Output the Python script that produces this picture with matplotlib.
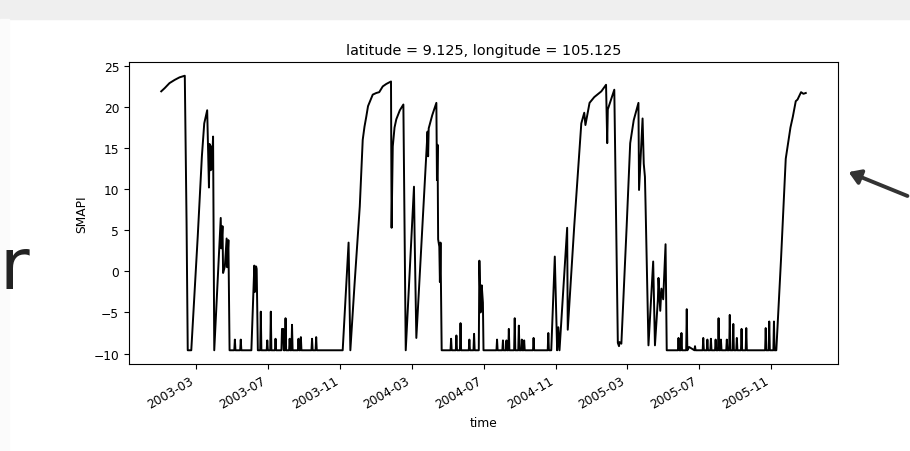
import numpy as np
import matplotlib
matplotlib.use("Agg")
import matplotlib.pyplot as plt
import matplotlib.dates as mdates
from matplotlib.patches import Rectangle

F = -9.6  # floor value of the index

# day offset from 2003-01-01 and SMAPI value at each vertex of the line
day = [0, 6, 14, 23, 31, 40, 43, 45, 51, 62, 69, 73, 78, 81, 82, 84, 85, 86, 88, 90,
       101, 102, 104, 105, 108, 111, 112, 114, 116,
       124, 125, 126, 134, 135, 136, 153, 158, 159, 161, 162, 164, 168, 169, 170,
       179, 180, 181, 185, 186, 187, 193, 194, 195, 204, 205, 206, 207, 208,
       210, 211, 212, 217, 218, 219, 221, 222, 223, 232, 233, 234, 236, 237, 238,
       255, 256, 257, 262, 263, 264, 308, 318, 321,
       328, 337, 342, 345, 348, 351, 359, 365, 370, 376, 382, 390, 391, 393, 396,
       399, 405, 411, 415, 429, 430, 433, 452, 453, 454, 460, 467, 468, 469, 470,
       472, 473, 474, 476,
       491, 492, 493, 500, 501, 502, 507, 508, 509, 522, 523, 524, 530, 531, 532,
       539, 540, 542, 544, 546, 547, 569, 570, 571, 579, 580, 581, 585, 586, 587,
       589, 590, 591, 599, 600, 601, 606, 607, 608, 611, 612, 613, 615, 616, 617,
       631, 632, 633, 656, 657, 658, 662, 668, 672, 674, 676, 689, 690,
       701, 713, 718, 720, 727, 735, 742, 747, 755, 757, 758, 769, 775, 777, 778,
       781, 790, 796, 802, 810, 811, 817, 819, 821, 822, 827, 835, 838, 843, 844,
       847, 849, 852, 856, 858,
       877, 878, 879, 882, 883, 884, 891, 892, 893, 896, 905, 906, 907, 919, 920,
       921, 926, 927, 928, 932, 933, 934, 940, 941, 942, 945, 946, 947, 949, 950,
       951, 959, 960, 961, 964, 965, 966, 970, 971, 972, 976, 977, 978, 984, 985,
       986, 992, 993, 994, 1025, 1026, 1027, 1031, 1032, 1033, 1039, 1040, 1041,
       1044, 1052, 1060, 1068, 1072, 1077, 1080, 1086, 1090, 1094]

smapi = [21.9, 22.3, 22.9, 23.3, 23.6, 23.8, 5.9, F, F, 4.3, 14.0, 18.0, 19.6, 10.2, 15.5, 12.3, 15.2, 12.5, 16.4, F,
         6.5, 2.8, 5.5, -0.2, 0.6, 4.0, 0.5, 3.8, F,
         F, -8.3, F, F, -8.3, F, F, 0.7, -2.5, 0.6, 0.3, F, F, -4.9, F,
         F, -8.4, F, F, -4.9, F, F, -8.2, F, F, -7.0, -7.8, -7.0, F,
         F, -5.7, F, F, -8.2, F, F, -6.5, F, F, -8.2, F, F, -8.0, F,
         F, -8.2, F, F, -8.0, F, F, 3.5, F,
         -1.7, 7.9, 16.0, 17.6, 18.8, 20.1, 21.5, 21.7, 21.8, 22.5, 22.8, 23.1, 5.3, 15.2, 17.5,
         18.5, 19.6, 20.3, F, 10.3, 4.7, -8.1, 17.0, 14.0, 17.4, 19.0, 20.5, 11.1, 15.4, 3.9,
         3.0, -1.3, 3.5, F,
         F, -8.2, F, F, -7.8, F, F, -6.3, F, F, -8.3, F, F, -7.6, F,
         F, 1.3, -5.0, -1.7, -3.8, F, F, -8.3, F, F, -8.4, F, F, -8.4, F,
         F, -7.0, F, F, -5.7, F, F, -6.6, F, F, -8.3, F, F, -8.4, F,
         F, -8.1, F, F, -7.5, F, F, 1.8, F, -6.8, F, 5.3, -7.1,
         5.5, 18.0, 19.3, 17.8, 20.5, 21.2, 21.6, 21.9, 22.7, 15.6, 19.7, 22.1, -8.7, -9.1, -8.6,
         -8.8, 5.5, 15.6, 18.4, 20.5, 9.9, 18.6, 13.1, 11.5, 8.3, -9.0, 1.2, -9.0, -3.4, -0.8,
         -4.8, -2.1, -3.4, 3.3, F,
         F, -8.1, F, F, -7.5, F, F, -4.6, F, -9.2, F, -9.1, F, F, -8.1,
         F, F, -8.3, F, F, -8.2, F, F, -8.3, F, F, -5.7, F, F, -8.3,
         F, F, -8.3, F, F, -5.3, F, F, -6.4, F, F, -8.1, F, F, -7.0,
         F, F, -6.9, F, F, -6.9, F, F, -6.1, F, F, -6.1, F,
         F, 1.5, 13.7, 17.5, 18.8, 20.7, 20.9, 21.8, 21.6, 21.7]

start = np.datetime64("2003-01-01")
title = "latitude = 9.125, longitude = 105.125"


def draw_backdrop(fig):
    # screenshot frame: grey strip on top, cut-off letter, pointer arrow
    fig.patches.append(Rectangle((0, 1 - 20 / 452), 1, 20 / 452, transform=fig.transFigure,
                                 color="#efefef", zorder=0))
    fig.patches.append(Rectangle((0, 0), 9 / 910, 1 - 20 / 452, transform=fig.transFigure,
                                 color="#fbfbfb", zorder=0))
    fig.text(0.0, 0.36, "r", fontsize=52, color="#222222", ha="left", va="baseline")
    fig.add_artist(matplotlib.patches.FancyArrowPatch(
        (1.0, 1 - 198 / 452), (846 / 910, 1 - 172 / 452), transform=fig.transFigure,
        arrowstyle="-|>,head_length=7,head_width=4.5", lw=2.8, color="#333333"))


def main():
    plt.rcParams["font.size"] = 8.8
    time = start + np.array(day).astype("timedelta64[D]")

    fig = plt.figure(figsize=(9.10, 4.52), dpi=100)
    draw_backdrop(fig)
    ax = fig.add_axes([129 / 910, 1 - 365 / 452, (838 - 129) / 910, (365 - 63) / 452])
    ax.plot(time, smapi, color="k", lw=1.4)

    ax.set_title(title, fontsize=10.4)
    ax.set_xlabel("time")
    ax.set_ylabel("SMAPI")
    ax.set_yticks(range(-10, 26, 5))
    ax.xaxis.set_major_locator(mdates.MonthLocator(bymonth=[3, 7, 11]))
    ax.xaxis.set_major_formatter(mdates.DateFormatter("%Y-%m"))
    for lab in ax.get_xticklabels():
        lab.set_rotation(30)
        lab.set_ha("right")

    fig.savefig("out.png", dpi=100)


if __name__ == "__main__":
    main()
